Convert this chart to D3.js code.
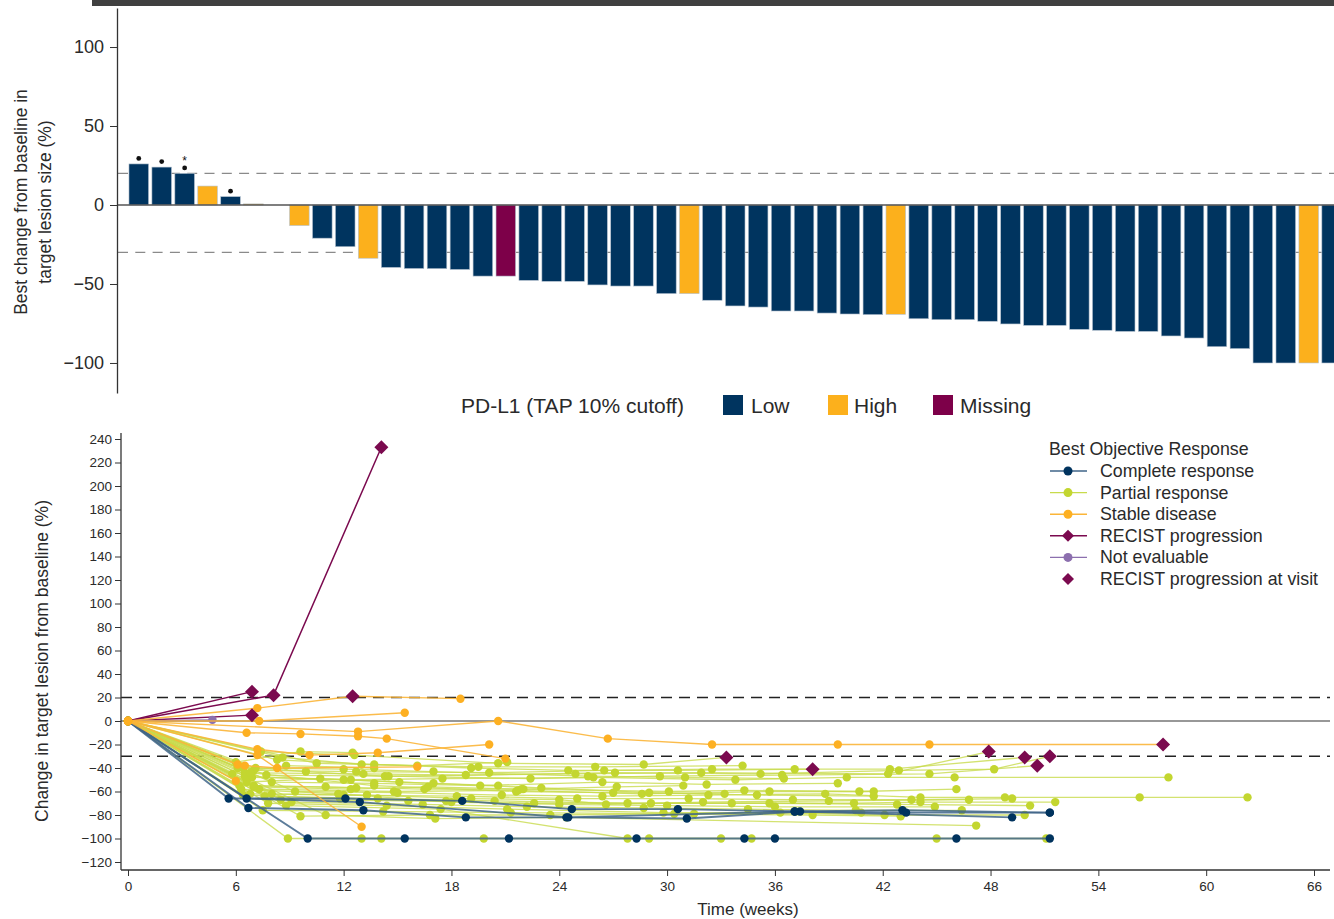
<!DOCTYPE html>
<html>
<head>
<meta charset="utf-8">
<script src="https://cdn.jsdelivr.net/npm/d3@7"></script>
<style>
  html, body { margin: 0; padding: 0; background: #fff; }
  svg { display: block; font-family: "Liberation Sans", Arial, sans-serif; }
</style>
</head>
<body>
<div id="main"></div>
<script>
// ---- data: waterfall (best change per patient, sorted) ----
const barValues = [26, 24, 20, 12, 5.3, 0.7, 0, -13, -21, -26.4, -33.7, -39.5, -40.2, -40.3, -40.8,
  -45, -45, -47.7, -48.3, -48.3, -50.6, -51.3, -51.3, -56.1, -56.1, -60.3, -63.9, -64.6, -67.1, -67.1,
  -68.4, -69, -69.4, -69.2, -72, -72.6, -72.6, -73.6, -75.3, -76.2, -76.2, -78.7, -79.3, -80, -80,
  -82.9, -84.2, -89.7, -90.9, -100, -100, -100, -100];
// PD-L1 status: L = low, H = high, M = missing
const barStatus = ['L', 'L', 'L', 'H', 'L', 'H', 'L', 'H', 'L', 'L', 'H', 'L', 'L', 'L', 'L',
  'L', 'M', 'L', 'L', 'L', 'L', 'L', 'L', 'L', 'H', 'L', 'L', 'L', 'L', 'L',
  'L', 'L', 'L', 'H', 'L', 'L', 'L', 'L', 'L', 'L', 'L', 'L', 'L', 'L', 'L',
  'L', 'L', 'L', 'L', 'L', 'L', 'H', 'L'];
const barDotIndex = [0, 1, 2, 4];
const barStarIndex = [2];
const barTicks = [-100, -50, 0, 50, 100];
const statusLegend = [['L', 'Low'], ['H', 'High'], ['M', 'Missing']];

// ---- data: spider plot, each patient = list of [week, % change] ----
const completeResponse = [
  [[0, 0], [5.6, -66], [12.1, -66], [18.6, -68], [24.7, -75], [30.6, -75], [37.1, -77], [43.1, -76], [51.3, -78]],
  [[0, 0], [6.6, -66], [12.9, -69], [24.5, -82], [31.1, -83], [37.4, -77], [49.2, -82]],
  [[0, 0], [6.7, -74], [13.1, -76], [18.8, -82], [24.4, -82], [37.1, -77], [43.3, -78], [51.3, -78]],
  [[0, 0], [10.0, -100], [15.4, -100], [21.2, -100], [28.3, -100], [34.3, -100], [36.0, -100], [46.1, -100], [51.3, -100]]
];
const partialResponse = [
  [[0, 0], [7.4, -26], [12.6, -29], [20.6, -36], [28.7, -37], [33.3, -31]],
  [[0, 0], [8.3, -33], [13.7, -37], [19.1, -40], [24.5, -42], [30.6, -42], [38.1, -41]],
  [[0, 0], [6.3, -39], [9.9, -43], [14.3, -47], [24.9, -45], [31.9, -44], [42.3, -45], [47.9, -26]],
  [[0, 0], [7.0, -42], [12.7, -43], [20.1, -44], [26.5, -42], [32.5, -41], [37.1, -41], [42.4, -41], [49.9, -31]],
  [[0, 0], [6.5, -44], [13.1, -45], [18.8, -46], [27.1, -44], [35.2, -45], [42.9, -42], [48.2, -41], [51.3, -30]],
  [[0, 0], [7.7, -46], [14.5, -47], [22.4, -49], [29.6, -47], [36.4, -46], [44.6, -45], [50.6, -38]],
  [[0, 0], [6.9, -48], [12.4, -50], [17.5, -49], [25.9, -48], [33.8, -50], [40.0, -48], [46.0, -48], [57.9, -48]],
  [[0, 0], [8.0, -52], [13.7, -53], [19.6, -55], [26.4, -52], [32.2, -54], [39.5, -53]],
  [[0, 0], [6.2, -55], [11.0, -56], [16.5, -58], [22.0, -58], [27.2, -56], [30.9, -55]],
  [[0, 0], [7.3, -58], [14.8, -60], [21.7, -59], [28.6, -62], [35.7, -60], [41.5, -60]],
  [[0, 0], [9.3, -60], [15.0, -61], [20.8, -63], [26.4, -64], [32.3, -63], [38.8, -62], [44.1, -65], [48.8, -65], [56.3, -65], [62.3, -65]],
  [[0, 0], [6.8, -62], [12.0, -63], [18.3, -64], [25.0, -66], [31.2, -66], [37.0, -67], [43.6, -67], [49.2, -66]],
  [[0, 0], [7.6, -64], [13.9, -66], [20.4, -68], [27.8, -70], [33.6, -70], [40.4, -70], [44.1, -69], [51.6, -69]],
  [[0, 0], [8.5, -67], [15.6, -68], [22.6, -70], [29.1, -70], [35.7, -70], [42.8, -71], [50.2, -72]],
  [[0, 0], [6.3, -58], [11.7, -62], [18.0, -69], [24.0, -71], [30.0, -72], [36.0, -73], [44.9, -73]],
  [[0, 0], [9.1, -69], [16.4, -71], [22.2, -73], [28.7, -74], [34.5, -75], [40.5, -76], [46.4, -76]],
  [[0, 0], [7.8, -70], [14.4, -72], [21.1, -75], [29.8, -78], [36.3, -78], [42.1, -80], [49.9, -80]],
  [[0, 0], [9.6, -81], [16.8, -80], [23.5, -80], [30.4, -79], [38.1, -80], [43.0, -81]],
  [[0, 0], [8.8, -72], [17.4, -75], [27.8, -100], [29.0, -100], [34.7, -100], [45.0, -100], [51.1, -100]],
  [[0, 0], [8.9, -100], [13.0, -100], [14.1, -100], [19.8, -100], [33.0, -100]],
  [[0, 0], [11.0, -80], [17.1, -83], [24.4, -82], [47.2, -89]],
  [[0, 0], [6.6, -52], [10.7, -49], [15.1, -52], [20.6, -55]],
  [[0, 0], [5.8, -45], [8.8, -38], [13.7, -40]],
  [[0, 0], [10.5, -36], [16.1, -38], [21.1, -35]],
  [[0, 0], [7.1, -40], [12.0, -41], [17.0, -43], [25.6, -47], [31.0, -48], [36.5, -49]],
  [[0, 0], [6.0, -35], [9.6, -26], [12.5, -27]],
  [[0, 0], [8.6, -31], [13.0, -37], [19.5, -39], [26.0, -39], [34.2, -38]],
  [[0, 0], [7.0, -56], [12.4, -58], [16.7, -56], [21.9, -58], [30.1, -60], [34.3, -59], [40.7, -60], [46.1, -58]],
  [[0, 0], [6.5, -47], [12.0, -50], [17.0, -53], [23.0, -57], [29.0, -61], [35.0, -63], [41.5, -64]],
  [[0, 0], [8.0, -62], [13.3, -63], [19.1, -66], [24.0, -67], [26.6, -71], [32.0, -69], [39.0, -68], [46.8, -67]],
  [[0, 0], [7.5, -76], [14.2, -77], [21.3, -78], [31.5, -79], [40.8, -78]],
  [[0, 0], [6.8, -44], [13.7, -55], [21.6, -60], [27.0, -61], [33.2, -62]],
  [[0, 0], [6.1, -40]],
  [[0, 0], [7.0, -55], [12.7, -57]],
  [[0, 0], [6.4, -63], [11.8, -66], [17.7, -68]]
];
const stableDisease = [
  [[0, 0], [7.2, 11], [12.5, 21], [18.5, 19]],
  [[0, 0], [7.3, 0], [15.4, 7]],
  [[0, 0], [12.8, -9], [20.6, 0], [26.7, -15], [32.5, -20], [39.5, -20], [44.6, -20], [57.6, -20]],
  [[0, 0], [6.6, -10], [9.6, -11], [12.8, -13], [14.4, -15], [21.0, -32]],
  [[0, 0], [7.2, -24], [10.1, -29], [13.9, -27], [20.1, -20]],
  [[0, 0], [6.1, -37], [6.5, -38], [8.3, -40], [16.1, -39]],
  [[0, 0], [7.2, -29], [13.0, -90]],
  [[0, 0], [6.0, -51]]
];
const progression = [
  [[0, 0], [6.9, 25]],
  [[0, 0], [8.1, 22], [14.1, 233]],
  [[0, 0], [6.9, 5]]
];
const notEvaluable = [
  [[0, 0], [4.7, 1]]
];
const progressionVisits = [[6.9, 25], [8.1, 22], [14.1, 233], [6.9, 5], [12.5, 21], [57.6, -20],
  [33.3, -31], [38.1, -41], [47.9, -26], [49.9, -31], [50.6, -38], [51.3, -30]];
const weekTicks = [0, 6, 12, 18, 24, 30, 36, 42, 48, 54, 60, 66];
const changeTicks = [-120, -100, -80, -60, -40, -20, 0, 20, 40, 60, 80, 100, 120, 140, 160, 180, 200, 220, 240];
const responseLegend = ['Complete response', 'Partial response', 'Stable disease', 'RECIST progression', 'Not evaluable', 'RECIST progression at visit'];

!(function () {
  'use strict';

  let
    svg = undefined,
    canvas = {},
    colors = {},
    xBand = undefined,
    yBar = undefined,
    xWeek = undefined,
    yChange = undefined;

  canvas = { context: '#main', width: 1334, height: 919 };
  colors = {
    L: '#00345f', H: '#fcb01c', M: '#7d0049',
    cr: '#00335e', crLine: '#3f6588',
    pr: '#c3d630', prLine: '#c8db4c',
    sd: '#fdb022', sdLine: '#fbb538',
    pd: '#7b0a4f', ne: '#8c6fae', text: '#2a2a2a'
  };

  function diamond(r) {
    return 'M0,' + (-r) + 'L' + r + ',0L0,' + r + 'L' + (-r) + ',0Z';
  }

  function setCanvas() {
    svg = d3.select(canvas.context).append('svg')
      .attr('width', canvas.width)
      .attr('height', canvas.height);
    svg.append('rect').attr('x', 92).attr('y', 0).attr('width', 1242).attr('height', 6).attr('fill', '#404040');
  }

  // top: waterfall
  function setWaterfall() {
    xBand = d3.scaleBand().domain(d3.range(barValues.length))
      .range([127.3, 127.3 + 22.94 * barValues.length])
      .paddingInner(0.146).paddingOuter(0.073);
    yBar = d3.scaleLinear().domain([-119, 124.7]).range([393, 8]);

    const g = svg.append('g');
    [20, -30].forEach(function (v) {
      g.append('line').attr('x1', 118).attr('x2', canvas.width)
        .attr('y1', yBar(v)).attr('y2', yBar(v))
        .attr('stroke', '#8a8a8a').attr('stroke-width', 1.4).attr('stroke-dasharray', '10,7.3');
    });

    g.selectAll('rect.bar').data(barValues).join('rect')
      .attr('class', 'bar')
      .attr('x', function (d, i) { return xBand(i); })
      .attr('width', xBand.bandwidth())
      .attr('y', function (d) { return yBar(Math.max(0, d)); })
      .attr('height', function (d) { return Math.abs(yBar(d) - yBar(0)); })
      .attr('fill', function (d, i) { return colors[barStatus[i]]; })
      .attr('stroke', '#b4c1cf').attr('stroke-width', 0.6);

    g.append('line').attr('x1', 118).attr('x2', canvas.width)
      .attr('y1', yBar(0)).attr('y2', yBar(0))
      .attr('stroke', '#555').attr('stroke-width', 1.3);

    g.selectAll('circle.mark').data(barDotIndex).join('circle')
      .attr('cx', function (i) { return xBand(i) + xBand.bandwidth() / 2; })
      .attr('cy', function (i) { return yBar(barValues[i]) - 5.5; })
      .attr('r', 2.4).attr('fill', '#111');
    g.selectAll('text.star').data(barStarIndex).join('text')
      .attr('x', function (i) { return xBand(i) + xBand.bandwidth() / 2; })
      .attr('y', function (i) { return yBar(barValues[i]) - 8; })
      .attr('text-anchor', 'middle').attr('font-size', 12).attr('fill', '#111').text('*');

    const axis = svg.append('g')
      .attr('transform', 'translate(117,0)')
      .call(d3.axisLeft(yBar).tickValues(barTicks).tickSize(7).tickSizeOuter(0).tickPadding(6));
    axis.select('.domain').attr('stroke', '#333').attr('stroke-width', 1.3);
    axis.selectAll('line').attr('stroke', '#333');
    axis.selectAll('text').attr('font-size', 18).attr('fill', colors.text)
      .attr('font-family', '"Liberation Sans", Arial, sans-serif');

    const title = svg.append('text').attr('transform', 'translate(0,202) rotate(-90)')
      .attr('text-anchor', 'middle').attr('font-size', 17.5).attr('fill', colors.text);
    title.append('tspan').attr('x', 0).attr('y', 27).text('Best change from baseline in');
    title.append('tspan').attr('x', 0).attr('y', 51).text('target lesion size (%)');

    // legend
    const lg = svg.append('g');
    lg.append('text').attr('x', 461).attr('y', 413).attr('font-size', 21).attr('fill', colors.text)
      .text('PD-L1 (TAP 10% cutoff)');
    const pos = [[723, 751], [828, 854], [933, 960]];
    statusLegend.forEach(function (s, i) {
      lg.append('rect').attr('x', pos[i][0]).attr('y', 395).attr('width', 20).attr('height', 20)
        .attr('fill', colors[s[0]]);
      lg.append('text').attr('x', pos[i][1]).attr('y', 413).attr('font-size', 21)
        .attr('fill', colors.text).text(s[1]);
    });
  }

  // bottom: spider plot
  function setSpider() {
    xWeek = d3.scaleLinear().domain([0, 66]).range([128, 1314]);
    yChange = d3.scaleLinear().domain([-120, 240]).range([862, 439]);

    const g = svg.append('g');
    const line = d3.line().x(function (d) { return xWeek(d[0]); }).y(function (d) { return yChange(d[1]); });

    [20, -30].forEach(function (v) {
      g.append('line').attr('x1', 121).attr('x2', 1330)
        .attr('y1', yChange(v)).attr('y2', yChange(v))
        .attr('stroke', '#222').attr('stroke-width', 1.3).attr('stroke-dasharray', '11,7');
    });
    g.append('line').attr('x1', 121).attr('x2', 1330)
      .attr('y1', yChange(0)).attr('y2', yChange(0))
      .attr('stroke', '#333').attr('stroke-width', 1.2);

    function drawGroup(data, stroke, fill, width, opacity) {
      const gg = g.append('g');
      gg.selectAll('path').data(data).join('path')
        .attr('d', line).attr('fill', 'none')
        .attr('stroke', stroke).attr('stroke-width', width).attr('stroke-opacity', opacity);
      if (fill) {
        gg.selectAll('circle').data(data.flat()).join('circle')
          .attr('cx', function (d) { return xWeek(d[0]); })
          .attr('cy', function (d) { return yChange(d[1]); })
          .attr('r', 4.2).attr('fill', fill);
      }
    }

    drawGroup(partialResponse, colors.prLine, colors.pr, 1.3, 0.8);
    drawGroup(completeResponse, colors.crLine, colors.cr, 1.9, 0.85);
    drawGroup(progression, colors.pd, null, 1.5, 1);
    drawGroup(notEvaluable, colors.ne, colors.ne, 1.3, 1);
    drawGroup(stableDisease, colors.sdLine, colors.sd, 1.4, 0.9);

    g.selectAll('path.visit').data(progressionVisits).join('path')
      .attr('class', 'visit')
      .attr('transform', function (d) { return 'translate(' + xWeek(d[0]) + ',' + yChange(d[1]) + ')'; })
      .attr('d', diamond(7)).attr('fill', colors.pd);

    const ax = svg.append('g').attr('transform', 'translate(0,870)')
      .call(d3.axisBottom(xWeek).tickValues(weekTicks).tickSize(6).tickSizeOuter(0).tickPadding(5));
    ax.select('.domain').attr('d', 'M121,0H1330').attr('stroke', '#333').attr('stroke-width', 1.3);
    const ay = svg.append('g').attr('transform', 'translate(121,0)')
      .call(d3.axisLeft(yChange).tickValues(changeTicks).tickSize(6).tickSizeOuter(0).tickPadding(3));
    ay.select('.domain').attr('d', 'M0,433V870').attr('stroke', '#333').attr('stroke-width', 1.3);
    [ax, ay].forEach(function (a) {
      a.selectAll('line').attr('stroke', '#333');
      a.selectAll('text').attr('font-size', 13.5).attr('fill', colors.text)
        .attr('font-family', '"Liberation Sans", Arial, sans-serif');
    });

    svg.append('text').attr('x', 748).attr('y', 915).attr('text-anchor', 'middle')
      .attr('font-size', 17).attr('fill', colors.text).text('Time (weeks)');
    svg.append('text').attr('transform', 'translate(48,661) rotate(-90)').attr('text-anchor', 'middle')
      .attr('font-size', 17.5).attr('fill', colors.text).text('Change in target lesion from baseline (%)');

    // legend
    const lg = svg.append('g');
    lg.append('text').attr('x', 1049).attr('y', 455).attr('font-size', 17.8).attr('fill', colors.text)
      .text('Best Objective Response');
    const styles = [
      [colors.crLine, colors.cr, 'c'], [colors.prLine, colors.pr, 'c'], [colors.sdLine, colors.sd, 'c'],
      [colors.pd, colors.pd, 'd'], [colors.ne, colors.ne, 'c'], [null, colors.pd, 'd']
    ];
    responseLegend.forEach(function (label, i) {
      const y = 471 + i * 21.6;
      const st = styles[i];
      if (st[0]) {
        lg.append('line').attr('x1', 1050).attr('x2', 1087).attr('y1', y).attr('y2', y)
          .attr('stroke', st[0]).attr('stroke-width', 1.4);
      }
      if (st[2] === 'c') {
        lg.append('circle').attr('cx', 1068).attr('cy', y).attr('r', 4.5).attr('fill', st[1]);
      } else {
        lg.append('path').attr('transform', 'translate(1068,' + y + ')').attr('d', diamond(6)).attr('fill', st[1]);
      }
      lg.append('text').attr('x', 1100).attr('y', y + 6).attr('font-size', 17.8).attr('fill', colors.text).text(label);
    });
  }

  setCanvas();
  setWaterfall();
  setSpider();
}());
</script>
</body>
</html>
